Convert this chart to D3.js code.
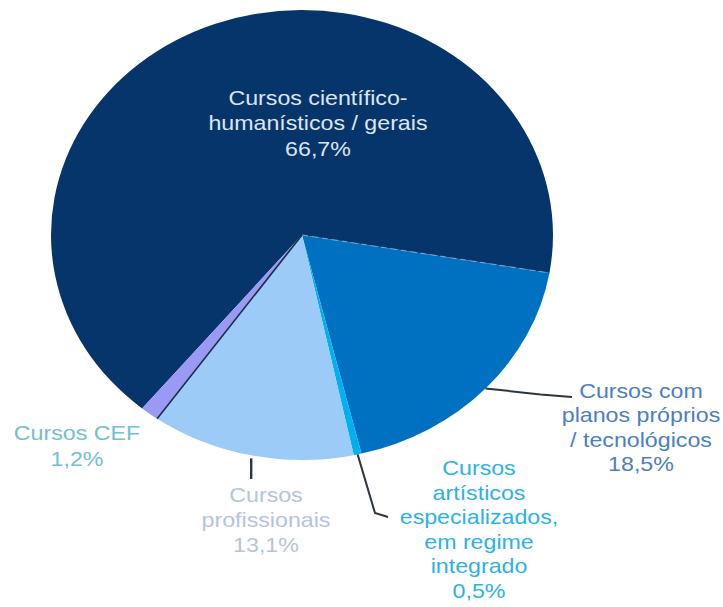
<!DOCTYPE html>
<html>
<head>
<meta charset="utf-8">
<script src="https://cdn.jsdelivr.net/npm/d3@7"></script>
<style>
  html, body { margin: 0; padding: 0; background: #ffffff; }
  svg { display: block; }
  text { font-family: "Liberation Sans", Arial, sans-serif; }
</style>
</head>
<body>
<div id="chart"></div>
<script>
// ---- data ----
const categories = [
  "Cursos científico-humanísticos / gerais",
  "Cursos com planos próprios / tecnológicos",
  "Cursos artísticos especializados, em regime integrado",
  "Cursos profissionais",
  "Cursos CEF"
];
const values = [66.7, 18.5, 0.5, 13.1, 1.2];
const valueLabels = ["66,7%", "18,5%", "0,5%", "13,1%", "1,2%"];
const labelLines = [
  ["Cursos científico-", "humanísticos / gerais"],
  ["Cursos com", "planos próprios", "/ tecnológicos"],
  ["Cursos", "artísticos", "especializados,", "em regime", "integrado"],
  ["Cursos", "profissionais"],
  ["Cursos CEF"]
];
const sliceColors = ["#06356c", "#0070c0", "#00b0f0", "#9dcbf8", "#9a9af4"];
const textColors  = ["#dde5ef", "#4a80c2", "#2bb2e8", "#b4c4de", "#72c0d3"];

// ---- layout ----
const W = 723, H = 607;
const cx = 302, cy = 235, R = 225, rx = 251;
const sx = rx / R;
const startDeg = 99.7 - 360 * values[0] / 100;

const svg = d3.select("#chart").append("svg").attr("width", W).attr("height", H);

const pie = d3.pie().sort(null).value(d => d)
  .startAngle(startDeg * Math.PI / 180)
  .endAngle(startDeg * Math.PI / 180 + 2 * Math.PI);
const arcs = pie(values);
const arc = d3.arc().innerRadius(0).outerRadius(R);

const g = svg.append("g").attr("transform", `translate(${cx},${cy}) scale(${sx},1)`);
g.selectAll("path.slice").data(arcs).enter().append("path")
  .attr("class", "slice")
  .attr("d", arc)
  .attr("fill", (d, i) => sliceColors[i]);

// helper: point on ellipse edge, screen coords
function edgePt(a, k = 1) {
  return [cx + sx * R * k * Math.sin(a), cy - R * k * Math.cos(a)];
}
// dashed light border between main and planos slices
const aB = arcs[1].startAngle;
svg.append("line")
  .attr("x1", cx).attr("y1", cy)
  .attr("x2", edgePt(aB)[0]).attr("y2", edgePt(aB)[1])
  .attr("stroke", "#8fb0d8").attr("stroke-width", 1.2)
  .attr("stroke-dasharray", "6,4").attr("opacity", 0.7);
// dark border between CEF and profissionais
const aC = arcs[4].startAngle;
svg.append("line")
  .attr("x1", cx).attr("y1", cy)
  .attr("x2", edgePt(aC)[0]).attr("y2", edgePt(aC)[1])
  .attr("stroke", "#1c2c48").attr("stroke-width", 1.6);

// ---- leader lines ----
const mid = d => (d.startAngle + d.endAngle) / 2;
const leader = d3.line();
const lp = edgePt(mid(arcs[1]));
svg.append("path")
  .attr("d", leader([lp, [lp[0] + 55, lp[1] + 6], [572, 397]]))
  .attr("fill", "none").attr("stroke", "#2d3542").attr("stroke-width", 2);
const la = edgePt(mid(arcs[2]));
svg.append("path")
  .attr("d", leader([la, [375, 513], [388, 517]]))
  .attr("fill", "none").attr("stroke", "#2d3542").attr("stroke-width", 2);
const lpr = edgePt(mid(arcs[3]));
svg.append("path")
  .attr("d", leader([[lpr[0], lpr[1] + 3], [lpr[0], 479]]))
  .attr("fill", "none").attr("stroke", "#2d3542").attr("stroke-width", 2.4);

// ---- labels ----
const labelPos = [
  { x: 318, y: 105, dy: 25.5 },
  { x: 641, y: 398, dy: 24.5 },
  { x: 479, y: 475, dy: 24.6 },
  { x: 266, y: 502, dy: 25 },
  { x: 77,  y: 440, dy: 26.5 }
];
const lg = svg.append("g").attr("transform", `scale(${sx},1)`);
labelLines.forEach((lines, i) => {
  const p = labelPos[i];
  const t = lg.append("text")
    .attr("text-anchor", "middle")
    .attr("font-size", 20.8)
    .attr("fill", textColors[i]);
  lines.concat([valueLabels[i]]).forEach((s, j) => {
    t.append("tspan").attr("x", p.x / sx).attr("y", p.y + j * p.dy).text(s);
  });
});
</script>
</body>
</html>
